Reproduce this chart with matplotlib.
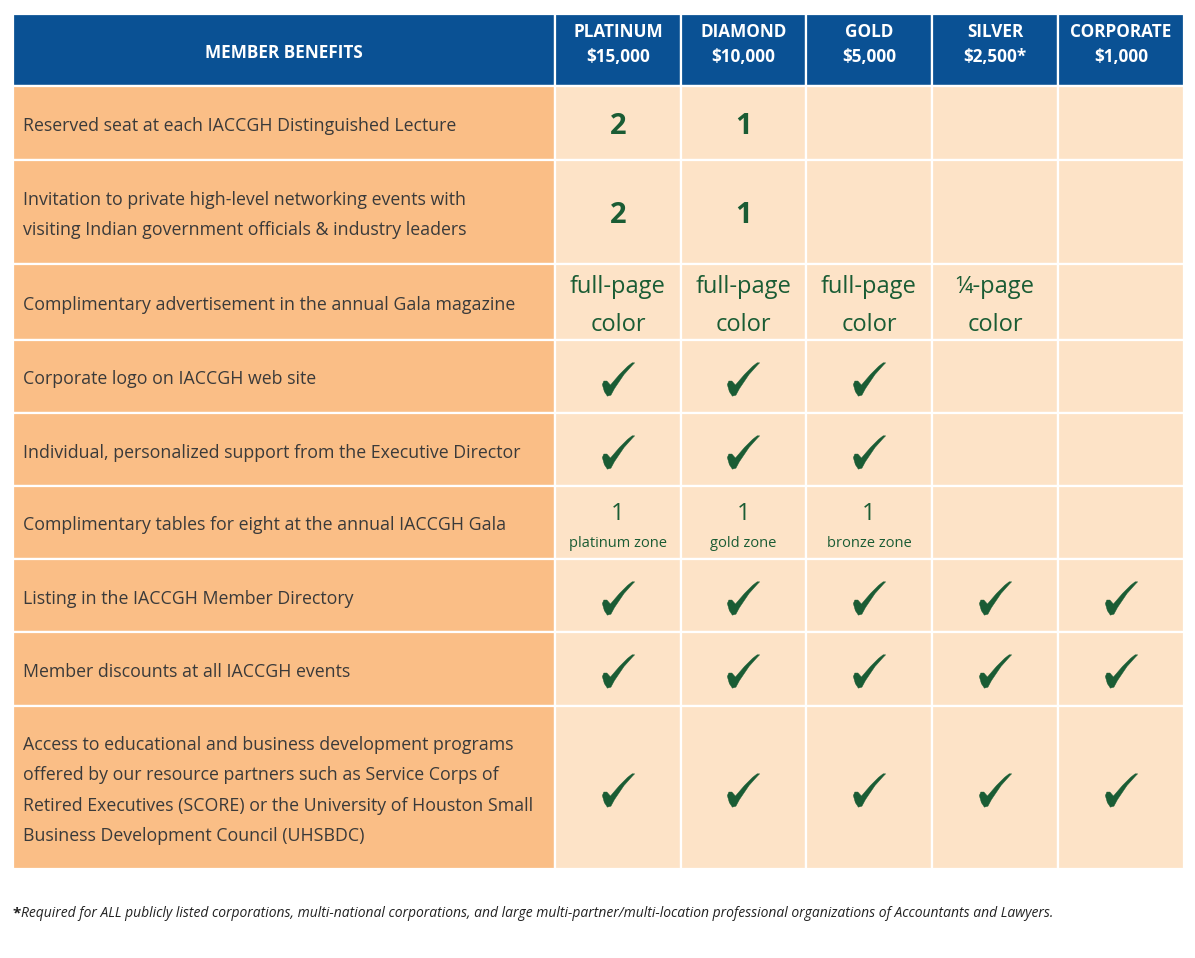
import matplotlib
matplotlib.use("Agg")
import matplotlib.pyplot as plt
from matplotlib.patches import Rectangle
from matplotlib.path import Path

# ---- data ----
tiers = ["PLATINUM", "DIAMOND", "GOLD", "SILVER", "CORPORATE"]
prices = ["$15,000", "$10,000", "$5,000", "$2,500*", "$1,000"]
header_label = "MEMBER BENEFITS"
benefits = [
    "Reserved seat at each IACCGH Distinguished Lecture",
    "Invitation to private high-level networking events with\nvisiting Indian government officials & industry leaders",
    "Complimentary advertisement in the annual Gala magazine",
    "Corporate logo on IACCGH web site",
    "Individual, personalized support from the Executive Director",
    "Complimentary tables for eight at the annual IACCGH Gala",
    "Listing in the IACCGH Member Directory",
    "Member discounts at all IACCGH events",
    "Access to educational and business development programs\noffered by our resource partners such as Service Corps of\nRetired Executives (SCORE) or the University of Houston Small\nBusiness Development Council (UHSBDC)",
]
CHK = "check"
values = [
    ["2", "1", "", "", ""],
    ["2", "1", "", "", ""],
    ["full-page\ncolor", "full-page\ncolor", "full-page\ncolor", "¼-page\ncolor", ""],
    [CHK, CHK, CHK, "", ""],
    [CHK, CHK, CHK, "", ""],
    ["1|platinum zone", "1|gold zone", "1|bronze zone", "", ""],
    [CHK, CHK, CHK, CHK, CHK],
    [CHK, CHK, CHK, CHK, CHK],
    [CHK, CHK, CHK, CHK, CHK],
]
footnote = ("Required for ALL publicly listed corporations, multi-national corporations, "
            "and large multi-partner/multi-location professional organizations of Accountants and Lawyers.")

# ---- layout / style ----
W, H = 1195, 958
col_edges = [13, 555, 681, 806, 932, 1058, 1184]
row_edges = [14, 86, 160, 264, 340, 413, 486, 559, 632, 706, 869]

BLUE = "#0A5194"
ORANGE = "#FABE86"
CREAM = "#FDE3C7"
GREEN = "#1A5C34"
TXT = "#3a3a3a"
FONT = "Open Sans"

# calligraphic check-mark marker shape (y up)
_chk = [(-16, -5), (-14.5, -1.5), (-11.5, -1.5), (-8, -5.5), (1, 5), (9, 13), (13.5, 16.5),
        (16, 16.5), (14, 14.5), (5.5, 5), (-4, -9), (-7.5, -15.5), (-11, -16.5), (-14, -12),
        (-16, -5)]
CHECK_MARKER = Path(_chk, closed=True)

fig = plt.figure(figsize=(W / 100, H / 100), dpi=100)
ax = fig.add_axes([0, 0, 1, 1])
ax.set_xlim(0, W)
ax.set_ylim(H, 0)
ax.axis("off")

def cell(x0, x1, y0, y1, color):
    ax.add_patch(Rectangle((x0, y0), x1 - x0, y1 - y0, facecolor=color,
                           edgecolor="white", linewidth=1.6))

# header
cell(col_edges[0], col_edges[1], row_edges[0], row_edges[1], BLUE)
ax.text((col_edges[0] + col_edges[1]) / 2, 58, header_label, color="white",
        fontsize=12.3, fontweight="bold", family=FONT, ha="center", va="baseline")
for j, (t, p) in enumerate(zip(tiers, prices)):
    x0, x1 = col_edges[j + 1], col_edges[j + 2]
    cell(x0, x1, row_edges[0], row_edges[1], BLUE)
    xc = (x0 + x1) / 2
    ax.text(xc, 37, t, color="white", fontsize=12.3, fontweight="bold",
            family=FONT, ha="center", va="baseline")
    ax.text(xc, 62, p, color="white", fontsize=12.3, fontweight="bold",
            family=FONT, ha="center", va="baseline")

# body
chk_x, chk_y = [], []
for i, (b, vals) in enumerate(zip(benefits, values)):
    y0, y1 = row_edges[i + 1], row_edges[i + 2]
    yc = (y0 + y1) / 2
    cell(col_edges[0], col_edges[1], y0, y1, ORANGE)
    ax.text(col_edges[0] + 10, yc + 3, b, color=TXT, fontsize=12.8, family=FONT,
            ha="left", va="center", linespacing=1.87)
    for j, v in enumerate(vals):
        x0, x1 = col_edges[j + 1], col_edges[j + 2]
        xc = (x0 + x1) / 2
        cell(x0, x1, y0, y1, CREAM)
        if not v:
            continue
        if v == CHK:
            chk_x.append(xc)
            chk_y.append(yc + 2)
        elif "|" in v:
            big, small = v.split("|")
            ax.text(xc, yc - 2.5, big, color=GREEN, fontsize=17, family=FONT,
                    ha="center", va="baseline")
            ax.text(xc, yc + 24.5, small, color=GREEN, fontsize=10.5, family=FONT,
                    ha="center", va="baseline")
        elif "\n" in v:
            ax.text(xc, yc + 4, v, color=GREEN, fontsize=17, family=FONT,
                    ha="center", va="center", linespacing=1.8)
        else:
            ax.text(xc, yc + 3, v, color=GREEN, fontsize=21, fontweight="bold",
                    family=FONT, ha="center", va="center")

ax.plot(chk_x, chk_y, linestyle="none", marker=CHECK_MARKER, markersize=24,
        markerfacecolor=GREEN, markeredgecolor=GREEN, markeredgewidth=0.3)

# footnote
ax.text(13, 917, "*", color="#222222", fontsize=11, fontweight="bold",
        family=FONT, ha="left", va="baseline")
ax.text(21, 917, footnote, color="#222222", fontsize=10, style="italic",
        family=FONT, ha="left", va="baseline")

fig.savefig("out.png", dpi=100)
